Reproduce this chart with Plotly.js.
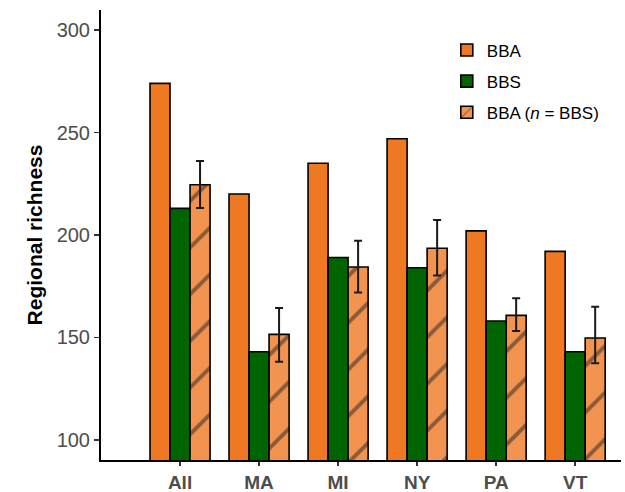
<!DOCTYPE html>
<html>
<head>
<meta charset="utf-8">
<script src="https://cdn.plot.ly/plotly-3.0.1.min.js"></script>
<style>html,body{margin:0;padding:0;background:#fff;}#chart{width:625px;height:492px;}</style>
</head>
<body>
<div id="chart"></div>
<script>
const regions = ["All", "MA", "MI", "NY", "PA", "VT"];
const bbaValues = [274, 220, 235, 247, 202, 192];
const bbsValues = [213, 143, 189, 184, 158, 143];
const bbaRarefiedMean = [224.5, 151.5, 184.4, 193.5, 160.8, 149.7];
const bbaRarefiedLower = [213.2, 138.2, 172.0, 180.2, 153.2, 137.4];
const bbaRarefiedUpper = [236.1, 164.4, 197.2, 207.3, 169.1, 165.0];

const errPlus = bbaRarefiedUpper.map((u, i) => u - bbaRarefiedMean[i]);
const errMinus = bbaRarefiedMean.map((m, i) => m - bbaRarefiedLower[i]);

const FONT = "Liberation Sans, Arial, sans-serif";
const outline = {color: "#000000", width: 1.6};

const traces = [
  {
    type: "bar", name: "BBA", x: regions, y: bbaValues,
    marker: {color: "#EF7822", line: outline},
    legendgroup: "a"
  },
  {
    type: "bar", name: "BBS", x: regions, y: bbsValues,
    marker: {color: "#006400", line: outline},
    legendgroup: "b"
  },
  {
    type: "bar", name: "BBA (<i>n</i> = BBS)", x: regions, y: bbaRarefiedMean,
    marker: {
      color: "#F29350", line: outline,
      pattern: {shape: "/", fgcolor: "#222222", bgcolor: "#F29350", size: 33, solidity: 0.12, fillmode: "overlay"}
    },
    error_y: {type: "data", symmetric: false, array: errPlus, arrayminus: errMinus,
              color: "#1a1a1a", thickness: 2, width: 4},
    legendgroup: "c"
  }
];

const layout = {
  width: 625, height: 492,
  margin: {l: 101, r: 4, t: 10, b: 32},
  paper_bgcolor: "#ffffff", plot_bgcolor: "#ffffff",
  barmode: "group", bargap: 0.24, bargroupgap: 0,
  showlegend: true,
  legend: {
    x: 0.665, y: 0.95, xanchor: "left", yanchor: "top",
    font: {family: FONT, size: 17, color: "#000"},
    tracegroupgap: 6, traceorder: "grouped",
    bgcolor: "rgba(0,0,0,0)"
  },
  xaxis: {
    type: "category", range: [-1.0, 5.58],
    showline: true, linecolor: "#000", linewidth: 2,
    ticks: "outside", ticklen: 4, tickcolor: "#333", tickwidth: 1.5,
    tickfont: {family: FONT, size: 19, color: "#4D4D4D", weight: "bold"},
    showgrid: false, zeroline: false, fixedrange: true
  },
  yaxis: {
    range: [90.2, 309.8],
    tickvals: [100, 150, 200, 250, 300],
    showline: true, linecolor: "#000", linewidth: 2,
    ticks: "outside", ticklen: 5, tickcolor: "#333", tickwidth: 1.5,
    tickfont: {family: FONT, size: 20, color: "#4D4D4D"},
    title: {text: "<b>Regional richness</b>", font: {family: FONT, size: 21, color: "#000"}, standoff: 8},
    showgrid: false, zeroline: false, fixedrange: true
  }
};

Plotly.newPlot("chart", traces, layout, {displayModeBar: false, staticPlot: true});
</script>
</body>
</html>
